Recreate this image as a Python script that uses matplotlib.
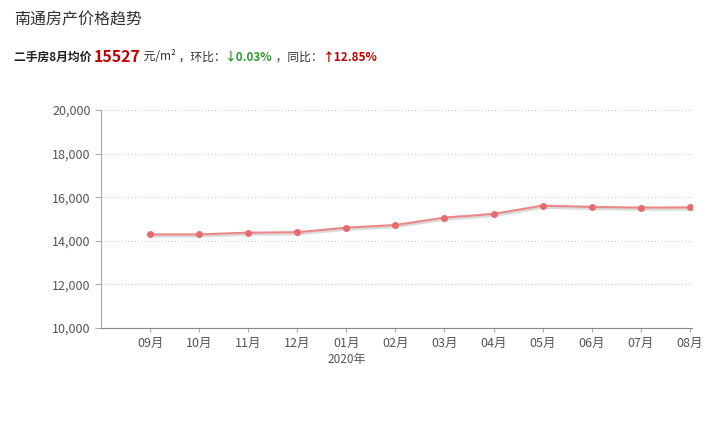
import matplotlib
matplotlib.use("Agg")
import matplotlib.pyplot as plt
import matplotlib.patheffects as pe

plt.rcParams['font.family'] = ['Noto Sans CJK SC', 'DejaVu Sans']

months = ["09月", "10月", "11月", "12月", "01月", "02月", "03月", "04月", "05月", "06月", "07月", "08月"]
prices = [14290, 14290, 14370, 14390, 14600, 14720, 15060, 15230, 15610, 15550, 15520, 15527]
yticks = [10000, 12000, 14000, 16000, 18000, 20000]

fig = plt.figure(figsize=(7.14, 4.26), dpi=100)
ax = fig.add_axes([0.1415, 0.230, 0.828, 0.512])

x = list(range(len(months)))
ax.plot(x, prices, color="#e98a8a", linewidth=1.6, solid_joinstyle="round",
        path_effects=[pe.SimpleLineShadow(offset=(0, -1.5), shadow_color="#888888", alpha=0.3),
                      pe.Normal()])
ax.scatter(x, prices, s=16, color="#e56c6c", zorder=3)

ax.set_xlim(-1, 11.05)
ax.set_ylim(10000, 20000)
ax.set_yticks(yticks)
ax.set_yticklabels([f"{v:,}" for v in yticks])
ax.set_xticks(x)
ax.set_xticklabels(months)
ax.grid(axis="y", linestyle=(0, (1, 2)), color="#cccccc", linewidth=0.8)
for s in ["top", "right"]:
    ax.spines[s].set_visible(False)
ax.spines["left"].set_color("#aaaaaa")
ax.spines["bottom"].set_color("#888888")
ax.tick_params(axis="y", colors="#aaaaaa", labelcolor="#555555", labelsize=9, length=4)
ax.tick_params(axis="x", colors="#aaaaaa", labelcolor="#555555", labelsize=9, length=3)
ax.annotate("2020年", xy=(4, 0), xycoords=("data", "axes fraction"),
            xytext=(0, -18), textcoords="offset points",
            ha="center", va="top", fontsize=8.5, color="#555555")

fig.text(14 / 714, 1 - 20 / 426, "南通房产价格趋势", fontsize=11.5, color="#333333", va="center")

# subtitle built piece by piece
parts = [
    ("二手房8月均价 ", "#222222", 8.5, "bold"),
    ("15527", "#c00000", 11.5, "bold"),
    (" 元/m²", "#333333", 8.5, "normal"),
    (" ，环比：", "#333333", 8.5, "normal"),
    ("↓0.03%", "#2c9a2c", 8.5, "bold"),
    (" ，同比：", "#333333", 8.5, "normal"),
    ("↑12.85%", "#c00000", 8.5, "bold"),
]
renderer = fig.canvas.get_renderer()
xpos = 14
for txt, col, size, weight in parts:
    t = fig.text(xpos / 714, 1 - 57 / 426, txt, fontsize=size, color=col,
                 fontweight=weight, va="center")
    xpos += t.get_window_extent(renderer).width

fig.savefig("out.png", dpi=100)
